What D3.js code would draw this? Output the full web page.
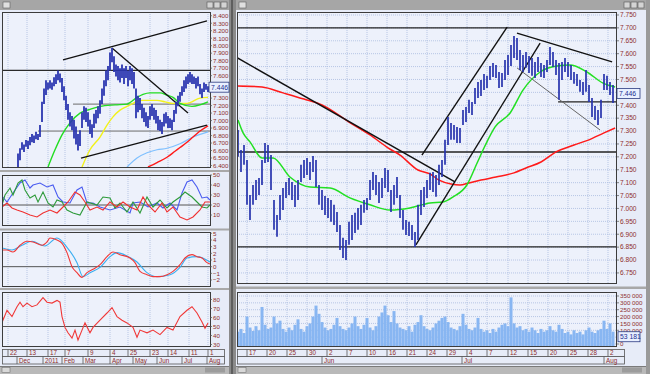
<!DOCTYPE html>
<html><head><meta charset="utf-8">
<script src="https://cdn.jsdelivr.net/npm/d3@7"></script>
<style>body{margin:0;background:#c4c4c4;overflow:hidden}svg{display:block}</style>
</head><body><svg id="c" width="650" height="374"></svg>
<script>
// ---------------- DATA ----------------
// Left (daily) chart: bar index 0..104, first bar at index 8
const leftFirst = 8;
const leftHigh = [6.56,6.63,6.71,6.68,6.74,6.73,6.78,6.82,6.80,6.85,6.82,6.94,7.25,7.43,7.54,7.51,7.54,7.51,7.58,7.62,7.67,7.63,7.57,7.46,7.33,7.22,7.11,7.06,7.01,6.92,6.82,6.87,7.11,7.19,7.17,7.11,7.01,6.95,7.09,7.14,7.19,7.27,7.43,7.54,7.67,7.73,7.91,7.97,7.86,7.75,7.73,7.70,7.75,7.70,7.73,7.67,7.73,7.70,7.65,7.43,7.33,7.30,7.22,7.17,7.11,7.06,7.19,7.22,7.17,7.14,7.06,7.01,6.98,7.09,7.11,7.06,7.03,7.01,7.14,7.25,7.33,7.38,7.46,7.54,7.59,7.62,7.65,7.62,7.59,7.57,7.59,7.49,7.43,7.51,7.49,7.46];
const leftLow  = [6.38,6.47,6.61,6.58,6.65,6.62,6.67,6.71,6.70,6.75,6.74,6.78,6.98,7.22,7.34,7.41,7.43,7.41,7.46,7.49,7.54,7.51,7.38,7.27,7.14,7.01,6.92,6.87,6.76,6.68,6.60,6.66,6.90,7.01,6.98,6.92,6.82,6.77,6.90,6.96,7.03,7.09,7.22,7.33,7.46,7.54,7.67,7.78,7.65,7.59,7.54,7.51,7.57,7.49,7.57,7.46,7.54,7.49,7.43,7.03,7.11,7.14,7.03,6.98,6.92,6.90,7.01,7.06,7.01,6.96,6.87,6.86,6.82,6.92,6.96,6.90,6.90,6.87,6.98,7.09,7.19,7.25,7.33,7.38,7.43,7.49,7.51,7.49,7.49,7.43,7.46,7.35,7.30,7.38,7.41,7.38];
const leftPriceTicks = [6.4,6.5,6.6,6.7,6.8,6.9,7.0,7.1,7.2,7.3,7.4,7.5,7.6,7.7,7.8,7.9,8.0,8.1,8.2,8.3,8.4];
const leftMaGreen  = [[23,6.38],[26.5,6.61],[30,6.81],[34,6.97],[39,7.10],[44,7.15],[49,7.19],[56.5,7.21],[62.5,7.22],[67.5,7.31],[70.5,7.35],[74,7.37],[79,7.37],[82.5,7.34],[85.5,7.31],[89,7.23],[95,7.19],[99,7.21],[103,7.25]];
const leftMaYellow = [[40,6.38],[44,6.61],[49,6.78],[52.5,6.94],[55.5,7.05],[59,7.14],[62.5,7.19],[65.5,7.23],[69,7.27],[77.5,7.27],[81.5,7.25],[85.5,7.23],[92.5,7.23],[99,7.30],[103,7.31]];
const leftMaBlue   = [[62.5,6.38],[67.5,6.50],[72.5,6.57],[77.5,6.61],[82.5,6.63],[89,6.69],[95.5,6.78],[103,6.85]];
const leftMaRed    = [[73,6.38],[77.5,6.44],[82.5,6.51],[86.5,6.59],[89,6.64],[92.5,6.71],[95.5,6.78],[99,6.86],[103,6.93]];
const leftTrendLines = [[[30.5,7.81],[102.5,8.33]],[[55,7.97],[93,7.10]],[[39.5,6.50],[102.5,6.94]]];
const leftLevelBlack = [7.67];
const leftLevelGray = [[35.5,7.22],[18,6.86]];
const leftLast = "7.446";
// DMI / ADX panel
const dmiBlue  = [[0,29],[2.5,23],[5.5,32],[9,42],[11.5,45],[14,37],[15.5,40],[19,42],[22.5,38],[25.5,40],[28,28],[30.5,23],[34,22],[37.5,35],[40,38],[42.5,22],[45.5,22],[49,18],[54,15],[59,18],[64,12],[65.5,22],[69,23],[73,18],[77.5,22],[80.5,17],[84,22],[87.5,15],[90,32],[92.5,43],[95,45],[97.5,38],[100,27],[102.5,28],[104,25]];
const dmiGreen = [[0,20],[1.5,30],[4,37],[5.5,30],[8,42],[10,45],[11.5,35],[14,27],[16.5,30],[18,23],[20.5,33],[23,22],[25.5,18],[27.5,25],[30,23],[32.5,15],[35.5,12],[39,10],[42.5,23],[47.5,20],[50.5,28],[54,27],[56.5,17],[59,22],[62.5,13],[65.5,23],[69,12],[72.5,28],[75.5,18],[79,25],[82.5,17],[85.5,23],[89,28],[91.5,33],[95,28],[97.5,23],[100,18],[102.5,17],[104,20]];
const dmiRed   = [[0,18],[2.5,22],[5,17],[7.5,15],[10.5,13],[14,10],[17.5,8],[20.5,12],[24,15],[27.5,12],[30.5,18],[33,23],[36.5,33],[39,30],[41.5,23],[44,15],[47.5,18],[50.5,15],[54,23],[57.5,18],[60.5,23],[64,18],[67.5,15],[70.5,28],[73,20],[76.5,13],[80,22],[82.5,13],[85.5,18],[89,8],[92.5,5],[95.5,8],[99,15],[101.5,23],[104,23]];
const dmiTicks = [10,20,30,40,50];
// MACD panel
const macdLine = [[0,2.5],[2.5,2.5],[5.5,2.2],[9,3.2],[12.5,3.8],[15.5,3.7],[20,3.2],[22.5,3.7],[24,4.3],[27.5,4.0],[30,3.5],[32.5,2.1],[35,0],[37.5,-0.9],[40,-1.6],[42.5,-0.9],[45.5,-0.4],[49,0.3],[52.5,1.5],[55.5,2.2],[59,1.8],[64,1.3],[66.5,0.6],[69,-0.7],[72.5,-1.2],[75.5,-1.5],[79,-1.5],[82.5,-1.2],[85.5,-0.7],[89,0.3],[91.5,1.3],[95,1.8],[97.5,1.5],[100,1.3],[102.5,0.6],[104,0.4]];
const macdSignal = [[0,2.8],[5,2.5],[10,3.2],[15,3.8],[21.5,3.1],[27.5,4.3],[32.5,2.9],[37.5,0.6],[40.5,-1.5],[44,-0.9],[49,-0.1],[54,1.5],[57.5,2.1],[62.5,1.6],[67.5,0.7],[72.5,-0.9],[77.5,-1.5],[84,-1.2],[89,-0.1],[92.5,1.3],[97.5,1.5],[104,0.7]];
const macdTicks = [-2,-1,0,1,2,3,4,5];
// RSI panel
const rsiLine = [[0,65],[0.5,57],[2.5,68],[5,61],[7.5,72],[9,77],[10.5,72],[12.5,76],[15,72],[17.5,74],[20.5,82],[22.5,77],[25,76],[27.5,79],[29,77],[30,61],[31.5,49],[33,43],[35,37],[36.5,46],[38,35],[40,46],[41.5,54],[44,43],[45.5,49],[49,57],[52.5,65],[55,71],[57.5,61],[60,57],[62.5,54],[65.5,49],[67.5,38],[69,46],[72.5,43],[75.5,46],[79,41],[82.5,49],[85.5,46],[89,61],[92.5,68],[95,72],[97.5,65],[100,55],[101.5,48],[103,54]];
const rsiTicks = [30,40,50,60,70,80];
const leftDayTicks = ["22","13","17","7","9","4","25","23","14","11","1"];
const leftDayIdx = [3,12.5,23,31.5,43,54,63,74,83,93.5,103];
const leftMonthTicks = ["Dec","2011","Feb","Mar","Apr","May","Jun","Jul","Aug"];
const leftMonthIdx = [7.5,20.5,30,40.5,54,65.5,77.5,90,102.5];

// Right (intraday) chart: bar index 0..125
const mainHigh = [7.304,7.227,7.246,7.188,7.052,7.091,7.110,7.118,7.188,7.254,7.246,7.207,7.033,6.975,7.052,7.079,7.103,7.118,7.103,7.091,7.110,7.169,7.188,7.196,7.180,7.203,7.188,7.091,7.072,7.048,7.041,7.033,7.014,6.986,6.936,6.886,6.878,6.948,6.975,6.983,7.002,7.014,7.033,7.041,7.110,7.141,7.130,7.103,7.118,7.157,7.149,7.072,7.091,7.122,7.052,6.994,6.955,6.948,6.936,6.909,7.014,7.072,7.083,7.110,7.138,7.141,7.130,7.169,7.188,7.266,7.355,7.331,7.324,7.316,7.312,7.382,7.393,7.421,7.413,7.467,7.490,7.498,7.521,7.514,7.552,7.564,7.556,7.529,7.525,7.576,7.595,7.634,7.669,7.661,7.614,7.595,7.607,7.591,7.583,7.568,7.587,7.564,7.556,7.576,7.626,7.607,7.576,7.564,7.568,7.583,7.568,7.556,7.529,7.521,7.498,7.490,7.537,7.479,7.428,7.397,7.382,7.421,7.521,7.514,7.490,7.479];
const mainLow  = [7.200,7.141,7.169,7.014,6.955,7.014,7.033,7.052,7.091,7.176,7.180,7.072,6.917,6.890,6.955,6.994,7.041,7.052,7.033,7.006,7.033,7.103,7.118,7.130,7.110,7.141,7.083,7.014,6.994,6.975,6.963,6.948,6.936,6.909,6.839,6.808,6.800,6.859,6.878,6.905,6.917,6.936,6.983,6.994,7.033,7.072,7.052,7.021,7.041,7.079,7.064,6.986,7.014,7.041,6.963,6.917,6.897,6.893,6.878,6.851,6.878,6.975,7.006,7.041,7.072,7.064,7.045,7.091,7.122,7.169,7.246,7.266,7.266,7.254,7.254,7.324,7.335,7.370,7.362,7.405,7.428,7.436,7.459,7.467,7.498,7.510,7.506,7.467,7.471,7.498,7.517,7.552,7.583,7.576,7.537,7.529,7.545,7.525,7.514,7.506,7.529,7.510,7.506,7.529,7.556,7.548,7.517,7.421,7.498,7.529,7.510,7.498,7.483,7.475,7.452,7.440,7.452,7.413,7.355,7.343,7.324,7.351,7.459,7.459,7.440,7.409];
const mainVolume = [90,110,80,200,120,95,130,100,270,140,110,120,200,150,170,110,90,120,100,140,180,110,90,130,150,200,280,220,160,120,100,110,140,190,130,110,100,120,150,200,130,110,140,190,120,100,130,200,230,280,210,160,240,150,120,110,100,130,90,140,160,210,130,110,100,120,150,170,190,200,160,120,110,100,130,220,140,110,100,120,190,110,90,100,80,110,90,120,140,150,130,340,150,120,130,100,110,90,120,100,80,110,90,100,130,100,90,140,110,80,90,70,100,80,90,70,100,120,90,80,100,110,170,110,150,90];
const mainMaRed = [[0,7.475],[8,7.471],[15,7.448],[22,7.424],[28,7.401],[37,7.335],[44,7.285],[50,7.235],[54,7.207],[60,7.149],[64,7.134],[67,7.110],[71,7.095],[74,7.091],[77,7.099],[81,7.110],[86,7.122],[92,7.138],[96,7.157],[101,7.180],[106,7.219],[112,7.246],[117,7.266],[122,7.293],[125.7,7.312]];
const mainMaGreen = [[0,7.343],[1.7,7.293],[4,7.258],[8,7.196],[11.7,7.196],[17.3,7.122],[24,7.083],[30.7,7.079],[37.3,7.041],[44,7.014],[50.7,6.994],[57.3,7.002],[64,7.021],[68.3,7.025],[71.7,7.045],[76.3,7.091],[79.7,7.176],[82.3,7.242],[85.7,7.316],[90.7,7.370],[95,7.459],[100.7,7.529],[106.3,7.552],[110.7,7.556],[116.3,7.529],[121.7,7.486],[125.7,7.471]];
const mainTrendLines = [[[-0.7,7.587],[72.3,7.103]],[[61.3,7.207],[89.7,7.703]],[[59.3,6.859],[100.7,7.641]],[[93,7.680],[124.7,7.568]]];
const mainThinLines = [[[93,7.545],[120.7,7.304]]];
const mainLevels = [7.700,7.219,6.851];
const mainShortLevel = [[106.7,7.413]];
const mainPriceTicks = [6.75,6.8,6.85,6.9,6.95,7.0,7.05,7.1,7.15,7.2,7.25,7.3,7.35,7.4,7.45,7.5,7.55,7.6,7.65,7.7,7.75];
const mainLast = "7.446";
const volTicks = [0,50,100,150,200,250,300,350];
const volLast = "53 181";
const mainDayTicks = ["17","20","25","30","2","7","10","16","21","24","29","4","7","12","15","20","25","28","2"];
const mainDayIdx = [3,9.67,16.33,23,29.67,36.33,43,49.67,56.33,63,69.67,76.33,83,90,96.67,103.33,110,116.67,123.33];
const mainMonthTicks = ["Jun","Jul","Aug"];
const mainMonthIdx = [28,74.67,122];

// ---------------- DRAW ----------------
const FONT = '"Liberation Sans", Arial, sans-serif';
const LBL = "#8e2c2c";
const BG = "#e7ecf8";
const GRID = "#a9bbe0";
const BORDER = "#3c3c3c";
const svg = d3.select("#c");
const defs = svg.append("defs");
function clip(id, x, y, w, h) {
  defs.append("clipPath").attr("id", id).append("rect").attr("x", x).attr("y", y).attr("width", w).attr("height", h);
}

// chrome
svg.append("rect").attr("width", 650).attr("height", 374).attr("fill", "#c4c4c4");
svg.append("rect").attr("x", 0).attr("y", 10).attr("width", 229).attr("height", 356).attr("fill", BG);
svg.append("rect").attr("x", 236).attr("y", 10).attr("width", 410).attr("height", 356).attr("fill", BG);
[[0, 229], [236, 646]].forEach(([a, b]) => {
  svg.append("rect").attr("x", a).attr("y", 0).attr("width", b - a).attr("height", 10).attr("fill", "#a6a6a6");
  svg.append("rect").attr("x", a + 3).attr("y", 2).attr("width", 7).attr("height", 6).attr("fill", "#e0e0e0").attr("stroke", "#606060").attr("stroke-width", 0.6);
  [b - 22, b - 15, b - 8].forEach(bx => svg.append("rect").attr("x", bx).attr("y", 2).attr("width", 6).attr("height", 6).attr("fill", "#d4d4d4").attr("stroke", "#555").attr("stroke-width", 0.6));
});
svg.append("rect").attr("x", 229).attr("y", 0).attr("width", 7).attr("height", 374).attr("fill", "#8a8a8a");
svg.append("rect").attr("x", 231).attr("y", 0).attr("width", 2).attr("height", 374).attr("fill", "#5e5e5e");
svg.append("rect").attr("x", 646).attr("y", 0).attr("width", 4).attr("height", 374).attr("fill", "#9a9a9a");
[[0, 229], [236, 646]].forEach(([a, b]) => {
  svg.append("rect").attr("x", a).attr("y", 366).attr("width", b - a).attr("height", 8).attr("fill", "#b9b9b9");
  svg.append("line").attr("x1", a).attr("x2", b).attr("y1", 366.5).attr("y2", 366.5).attr("stroke", "#7a7a7a");
  svg.append("rect").attr("x", a + 2).attr("y", 367.5).attr("width", 8).attr("height", 5).attr("fill", "#d8d8d8").attr("stroke", "#666").attr("stroke-width", 0.5);
  svg.append("rect").attr("x", b - 24).attr("y", 367.5).attr("width", 20).attr("height", 5).attr("fill", "#9c9c9c");
});
[170, 228.5, 288].forEach(y => svg.append("rect").attr("x", 0).attr("y", y).attr("width", 229).attr("height", 2).attr("fill", "#a8a8a8"));
svg.append("rect").attr("x", 236).attr("y", 286.5).attr("width", 410).attr("height", 2.5).attr("fill", "#a8a8a8");

function panel(x0, x1, y0, y1, id) {
  svg.append("rect").attr("x", x0).attr("y", y0).attr("width", x1 - x0).attr("height", y1 - y0).attr("fill", "#edf1fb");
  clip(id, x0, y0, x1 - x0, y1 - y0);
  return svg.append("g").attr("clip-path", `url(#${id})`);
}
function border(x0, x1, y0, y1) {
  svg.append("rect").attr("x", x0 + 0.5).attr("y", y0 + 0.5).attr("width", x1 - x0 - 1).attr("height", y1 - y0 - 1)
    .attr("fill", "none").attr("stroke", BORDER).attr("stroke-width", 1);
}
function yLabels(ticks, ys, x, fmt, size) {
  const g = svg.append("g");
  ticks.forEach(t => {
    g.append("line").attr("x1", x - 3).attr("x2", x - 1).attr("y1", ys(t)).attr("y2", ys(t)).attr("stroke", "#555").attr("stroke-width", 0.7);
    g.append("text").attr("x", x).attr("y", ys(t) + 2.3).text(fmt(t))
      .attr("font-family", FONT).attr("font-size", size).attr("fill", LBL);
  });
}
function lastBox(x, y, w, txt) {
  svg.append("rect").attr("x", x).attr("y", y - 5).attr("width", w).attr("height", 10).attr("fill", "#e9f0ff").attr("stroke", "#2a3a80").attr("stroke-width", 0.8);
  svg.append("text").attr("x", x + 2).attr("y", y + 2.5).text(txt).attr("font-family", FONT).attr("font-size", 6.8).attr("fill", "#1c2c90");
}
function vgrid(g, xs, idx, y0, y1) {
  idx.forEach(i => g.append("line").attr("x1", xs(i)).attr("x2", xs(i)).attr("y1", y0).attr("y2", y1)
    .attr("stroke", GRID).attr("stroke-width", 0.8).attr("stroke-dasharray", "1,1"));
}
function hgrid(g, ys, ticks, x0, x1) {
  ticks.forEach(t => g.append("line").attr("x1", x0).attr("x2", x1).attr("y1", ys(t)).attr("y2", ys(t))
    .attr("stroke", GRID).attr("stroke-width", 0.8).attr("stroke-dasharray", "1,1"));
}
function pathOf(g, data, xs, ys, color, w, curve) {
  g.append("path").datum(data).attr("fill", "none").attr("stroke", color).attr("stroke-width", w)
    .attr("d", d3.line().x(d => xs(d[0])).y(d => ys(d[1])).curve(curve || d3.curveLinear));
}
function axisRows(xs, dayIdx, days, monIdx, mons, x0, x1) {
  const g = svg.append("g");
  g.append("rect").attr("x", x0 + 0.5).attr("y", 349.5).attr("width", x1 - x0).attr("height", 7).attr("fill", BG).attr("stroke", "#555").attr("stroke-width", 0.8);
  g.append("rect").attr("x", x0 + 0.5).attr("y", 356.5).attr("width", x1 - x0).attr("height", 7.5).attr("fill", BG).attr("stroke", "#555").attr("stroke-width", 0.8);
  dayIdx.forEach((i, k) => {
    const x = xs(i);
    g.append("line").attr("x1", x).attr("x2", x).attr("y1", 349.5).attr("y2", 356.5).attr("stroke", "#555").attr("stroke-width", 0.8);
    g.append("text").attr("x", x + 2).attr("y", 355.3).text(days[k]).attr("font-family", FONT).attr("font-size", 6.3).attr("fill", LBL);
  });
  monIdx.forEach((i, k) => {
    const x = xs(i);
    g.append("line").attr("x1", x).attr("x2", x).attr("y1", 356.5).attr("y2", 364).attr("stroke", "#555").attr("stroke-width", 0.8);
    g.append("text").attr("x", x + 2).attr("y", 362.8).text(mons[k]).attr("font-family", FONT).attr("font-size", 6.3).attr("fill", LBL);
  });
}

// ===== LEFT WINDOW =====
const LX0 = 2, LX1 = 210;
const xL = d3.scaleLinear().domain([0, 104]).range([LX0, LX1]);
const yL = d3.scaleLinear().domain([6.38, 8.45]).range([167, 12]);
const g1 = panel(LX0, LX1, 12, 167, "cp1");
vgrid(g1, xL, leftDayIdx, 12, 167);
leftLevelGray.forEach(([i, v]) => g1.append("line").attr("x1", xL(i)).attr("x2", LX1).attr("y1", yL(v)).attr("y2", yL(v)).attr("stroke", "#6a6a6a").attr("stroke-width", 1));
leftLevelBlack.forEach(v => g1.append("line").attr("x1", LX0).attr("x2", LX1).attr("y1", yL(v)).attr("y2", yL(v)).attr("stroke", "#2a2a2a").attr("stroke-width", 1.2));
pathOf(g1, leftMaBlue, xL, yL, "#7fc0ff", 1.2, d3.curveMonotoneX);
pathOf(g1, leftMaRed, xL, yL, "#ff1a1a", 1.4, d3.curveMonotoneX);
pathOf(g1, leftMaYellow, xL, yL, "#f2f21a", 1.4, d3.curveMonotoneX);
pathOf(g1, leftMaGreen, xL, yL, "#22dd22", 1.4, d3.curveMonotoneX);
leftTrendLines.forEach(l => pathOf(g1, l, xL, yL, "#111", 1.3));
leftHigh.forEach((h, k) => {
  const x = xL(leftFirst + k);
  g1.append("line").attr("x1", x).attr("x2", x).attr("y1", yL(h)).attr("y2", yL(leftLow[k])).attr("stroke", "#2b36b0").attr("stroke-width", 1.8);
});
border(LX0, LX1 + 1, 12, 168);
// labels hidden behind the last-price box are not drawn
const leftBoxY = yL(7.446);
yLabels(leftPriceTicks.filter(t => Math.abs(yL(t) - leftBoxY) > 7), yL, 213, d3.format(".3f"), 6.2);
lastBox(209, leftBoxY, 20, leftLast);

// panel 2 DMI
const y2 = d3.scaleLinear().domain([0, 50]).range([225, 175]);
const g2 = panel(LX0, LX1, 175, 225, "cp2");
vgrid(g2, xL, leftDayIdx, 175, 225);
g2.append("line").attr("x1", LX0).attr("x2", LX1).attr("y1", y2(20)).attr("y2", y2(20)).attr("stroke", "#555").attr("stroke-width", 1);
pathOf(g2, dmiBlue, xL, y2, "#4a5cf0", 1.1);
pathOf(g2, dmiGreen, xL, y2, "#2e9a3a", 1.1);
pathOf(g2, dmiRed, xL, y2, "#f03030", 1.1);
border(LX0, LX1 + 1, 175, 226);
yLabels(dmiTicks, y2, 213, d3.format("d"), 6.2);

// panel 3 MACD
const y3 = d3.scaleLinear().domain([-2, 5]).range([280, 233.3]);
const g3 = panel(LX0, LX1, 232, 286, "cp3");
vgrid(g3, xL, leftDayIdx, 232, 286);
g3.append("line").attr("x1", LX0).attr("x2", LX1).attr("y1", y3(0)).attr("y2", y3(0)).attr("stroke", "#555").attr("stroke-width", 1);
pathOf(g3, macdSignal, xL, y3, "#3aaef0", 1.1, d3.curveMonotoneX);
pathOf(g3, macdLine, xL, y3, "#f03838", 1.1, d3.curveMonotoneX);
border(LX0, LX1 + 1, 232, 287);
yLabels(macdTicks, y3, 213, d3.format("d"), 6.2);

// panel 4 RSI
const y4 = d3.scaleLinear().domain([30, 80]).range([344.5, 299.5]);
const g4 = panel(LX0, LX1, 292, 346, "cp4");
vgrid(g4, xL, leftDayIdx, 292, 346);
g4.append("line").attr("x1", LX0).attr("x2", LX1).attr("y1", y4(50)).attr("y2", y4(50)).attr("stroke", "#555").attr("stroke-width", 1);
pathOf(g4, rsiLine, xL, y4, "#f03838", 1.1);
border(LX0, LX1 + 1, 292, 347);
yLabels(rsiTicks, y4, 213, d3.format("d"), 6.2);

axisRows(xL, leftDayIdx, leftDayTicks, leftMonthIdx, leftMonthTicks, LX0, LX1 + 14);

// ===== RIGHT WINDOW =====
const MX0 = 237, MX1 = 616;
const xM = d3.scaleLinear().domain([0, 125]).range([238, 613]);
const yM = d3.scaleLinear().domain([6.711, 7.7616]).range([283, 12]);
const gm = panel(MX0, MX1, 12, 283, "cpm");
vgrid(gm, xM, mainDayIdx, 12, 283);
hgrid(gm, yM, mainPriceTicks, MX0, MX1);
mainLevels.forEach(v => gm.append("line").attr("x1", MX0).attr("x2", MX1).attr("y1", yM(v)).attr("y2", yM(v)).attr("stroke", "#222").attr("stroke-width", 1.4));
mainShortLevel.forEach(([i, v]) => gm.append("line").attr("x1", xM(i)).attr("x2", MX1).attr("y1", yM(v)).attr("y2", yM(v)).attr("stroke", "#222").attr("stroke-width", 1.2));
pathOf(gm, mainMaRed, xM, yM, "#ff1a1a", 1.5, d3.curveMonotoneX);
pathOf(gm, mainMaGreen, xM, yM, "#22e022", 1.5, d3.curveMonotoneX);
mainThinLines.forEach(l => pathOf(gm, l, xM, yM, "#666", 1));
mainTrendLines.forEach(l => pathOf(gm, l, xM, yM, "#111", 1.4));
mainHigh.forEach((h, k) => {
  const x = xM(k);
  gm.append("line").attr("x1", x).attr("x2", x).attr("y1", yM(h)).attr("y2", yM(mainLow[k])).attr("stroke", "#2633ad").attr("stroke-width", 1.7);
});
border(MX0, MX1 + 1, 12, 284);
const mainBoxY = yM(7.446);
yLabels(mainPriceTicks.filter(t => Math.abs(yM(t) - mainBoxY) > 7), yM, 620, d3.format(".3f"), 6.6);
lastBox(617, mainBoxY, 23, mainLast);

// volume
const yV = d3.scaleLinear().domain([0, 350]).range([344, 296]);
const gv = panel(MX0, MX1, 292, 346, "cpv");
vgrid(gv, xM, mainDayIdx, 292, 346);
hgrid(gv, yV, volTicks, MX0, MX1);
mainVolume.forEach((v, k) => {
  gv.append("rect").attr("x", xM(k) - 1.5).attr("width", 3).attr("y", yV(v)).attr("height", yV(0) - yV(v) + 2).attr("fill", "#88b6f2");
});
border(MX0, MX1 + 1, 292, 347);
const volBoxY = yV(53);
yLabels(volTicks.filter(t => Math.abs(yV(t) - volBoxY) > 6), yV, 620, v => v === 0 ? "0" : v + " 000", 6.2);
lastBox(618, volBoxY, 22, volLast);

axisRows(xM, mainDayIdx, mainDayTicks, mainMonthIdx, mainMonthTicks, MX0, MX1 + 8);
</script></body></html>
